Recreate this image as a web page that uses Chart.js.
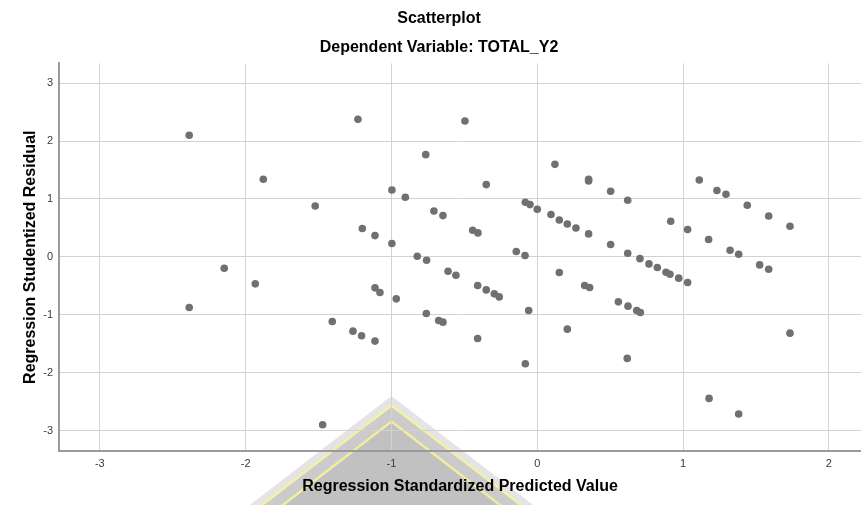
<html>
  <!-- SPSS style residual scatterplot with Chart.js -->
  <head>
    <script src="https://cdn.jsdelivr.net/npm/chart.js@4.4.1/dist/chart.umd.min.js"></script>
    <style>
      body { margin: 0; background: #fff; overflow: hidden; }
    </style>
    <script>
      // values
      var predicted = [
        -2.387, -1.879, -1.523, -1.230, -0.496, -0.765, 0.121, 0.352, 0.352, -0.350,
        -0.997, -0.905, -0.709, -0.647, -0.082, -0.050, 0.000, 0.094, 0.151, 0.206,
        0.265, 0.352, -1.200, -1.113, -0.997, -0.443, -0.407, -0.823, -0.759, -0.144,
        -0.084, 0.503, 0.620, 1.111, 1.232, 1.294, 1.440, 1.587, 1.733, 0.915,
        1.031, 1.175, 1.322, 1.381, 0.503, 0.620, 0.704, -2.147, -1.934, -2.387,
        -1.406, -1.472, -0.612, -0.558, -0.409, -0.350, -0.295, -0.261, -1.113, -1.079,
        -0.967, -1.264, -1.205, -1.113, -0.761, -0.676, -0.647, -0.409, -0.059, -0.082,
        0.151, 0.206, 0.325, 0.359, 0.766, 0.823, 0.883, 0.910, 0.970, 1.031,
        1.525, 1.587, 0.556, 0.622, 0.682, 0.707, 0.617, 1.733, 1.178, 1.381
      ]
      var residual = [
        2.100, 1.340, 0.880, 2.374, 2.345, 1.765, 1.598, 1.340, 1.310, 1.248,
        1.155, 1.030, 0.793, 0.713, 0.943, 0.903, 0.822, 0.731, 0.638, 0.569,
        0.500, 0.397, 0.490, 0.368, 0.231, 0.460, 0.414, 0.012, -0.057, 0.093,
        0.024, 1.133, 0.978, 1.328, 1.145, 1.081, 0.891, 0.707, 0.529, 0.616,
        0.472, 0.300, 0.116, 0.047, 0.213, 0.064, -0.030, -0.195, -0.465, -0.873,
        -1.114, -2.897, -0.247, -0.316, -0.494, -0.569, -0.638, -0.690, -0.534, -0.614,
        -0.724, -1.281, -1.362, -1.453, -0.976, -1.097, -1.126, -1.407, -0.924, -1.845,
        -0.269, -1.247, -0.494, -0.528, -0.121, -0.183, -0.264, -0.298, -0.367, -0.442,
        -0.138, -0.212, -0.776, -0.850, -0.924, -0.959, -1.752, -1.316, -2.442, -2.712
      ]
      var xRange = [-3.28, 2.22]
      var yRange = [-3.35, 3.34]

      var FONT = "'Liberation Sans', Arial, sans-serif"

      // faint logo watermark that sits behind the plot in the source image
      var watermark = {
        id: 'watermark',
        beforeDraw: function (chart) {
          var ctx = chart.ctx
          var h = chart.height
          var ax = chart.scales.x.getPixelForValue(-1)
          var k = 1.3
          function tri(apexY, color) {
            var d = h - apexY
            ctx.beginPath()
            ctx.moveTo(ax, apexY)
            ctx.lineTo(ax + d * k, h)
            ctx.lineTo(ax - d * k, h)
            ctx.closePath()
            ctx.fillStyle = color
            ctx.fill()
          }
          ctx.save()
          ctx.fillStyle = '#fff'
          ctx.fillRect(0, 0, chart.width, h)
          tri(396, '#e4e4e4')
          tri(404, '#f4f1a6')
          tri(407, '#cbcbcb')
          tri(420, '#f2ee9c')
          tri(423, '#c1c1c1')
          ctx.restore()
        }
      }

      function init() {
        var points = predicted.map(function (v, i) {
          return { x: v, y: residual[i] }
        })
        new Chart(document.getElementById('scatter'), {
          type: 'scatter',
          data: {
            datasets: [
              {
                data: points,
                backgroundColor: '#707070',
                borderWidth: 0,
                pointRadius: 3.8,
                clip: false,
              },
            ],
          },
          plugins: [watermark],
          options: {
            animation: false,
            responsive: false,
            layout: { autoPadding: false, padding: { left: 17, right: 0, top: 1, bottom: 0 } },
            plugins: {
              legend: { display: false },
              tooltip: { enabled: false },
              title: {
                display: true,
                text: 'Scatterplot',
                color: '#000',
                font: { family: FONT, size: 16, weight: 'bold' },
                padding: { top: 8, bottom: 10 },
              },
              subtitle: {
                display: true,
                text: 'Dependent Variable: TOTAL_Y2',
                color: '#000',
                font: { family: FONT, size: 16, weight: 'bold' },
                padding: { top: 0, bottom: 6 },
              },
            },
            scales: {
              x: {
                type: 'linear',
                min: xRange[0],
                max: xRange[1],
                afterFit: function (s) { s.height = 54 },
                ticks: {
                  stepSize: 1,
                  includeBounds: false,
                  color: '#3a3a3a',
                  padding: 6,
                  font: { family: FONT, size: 11 },
                },
                grid: { color: '#d2d2d2', lineWidth: 1, drawTicks: false },
                border: { display: true, color: '#9a9a9a', width: 2 },
                title: {
                  display: true,
                  text: 'Regression Standardized Predicted Value',
                  color: '#000',
                  font: { family: FONT, size: 16, weight: 'bold' },
                  padding: { top: 0, bottom: 9 },
                },
              },
              y: {
                type: 'linear',
                min: yRange[0],
                max: yRange[1],
                afterFit: function (s) { s.width = 42 },
                ticks: {
                  stepSize: 1,
                  includeBounds: false,
                  color: '#3a3a3a',
                  padding: 6,
                  font: { family: FONT, size: 11 },
                },
                grid: { color: '#d2d2d2', lineWidth: 1, drawTicks: false },
                border: { display: true, color: '#9a9a9a', width: 2 },
                title: {
                  display: true,
                  text: 'Regression Studentized Residual',
                  color: '#000',
                  font: { family: FONT, size: 16, weight: 'bold' },
                  padding: { top: 4, bottom: 0 },
                },
              },
            },
          },
        })
      }
    </script>
  </head>
  <body onload="javascript:init()">
    <canvas id="scatter" width="861" height="505"></canvas>
  </body>
</html>
